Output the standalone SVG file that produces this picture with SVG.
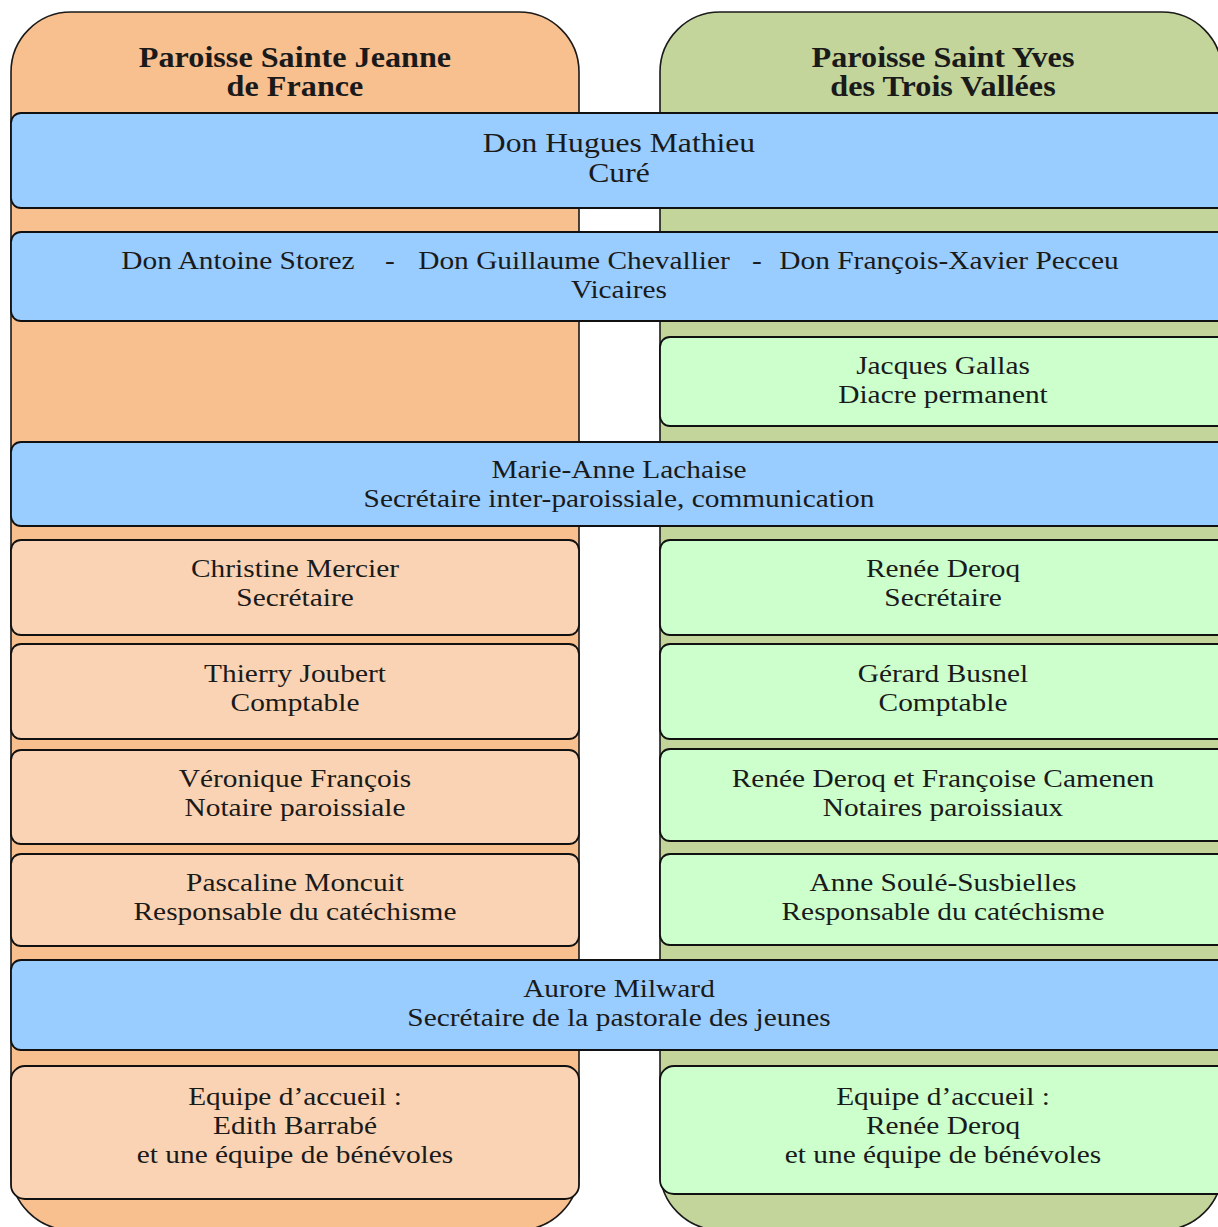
<svg xmlns="http://www.w3.org/2000/svg" width="1218" height="1227" viewBox="0 0 1218 1227">
<style>
.col{stroke:#1a1a1a;stroke-width:1.6}
.or{fill:#F8BF8F}
.gr{fill:#C3D59B}
.bar{fill:#99CCFF;stroke:#111;stroke-width:1.8}
.lb{fill:#F9D3B3;stroke:#111;stroke-width:1.8}
.rb{fill:#CCFFCC;stroke:#111;stroke-width:1.8}
text{font-family:"Liberation Serif","Times New Roman",serif;font-size:26px;fill:#1a1a1a;text-anchor:middle}
.big{font-size:28px}
.ttl{font-weight:bold;font-size:28.5px}
</style>
<g id="col-left"><rect class="col or" x="11" y="12" width="568" height="1218" rx="60" ry="60"/>
<text class="ttl" transform="translate(295 67) scale(1.13 1)">Paroisse Sainte Jeanne</text>
<text class="ttl" transform="translate(295 96) scale(1.13 1)">de France</text></g>
<g id="col-right"><rect class="col gr" x="660" y="12" width="562" height="1218" rx="60" ry="60"/>
<text class="ttl" transform="translate(943 67) scale(1.13 1)">Paroisse Saint Yves</text>
<text class="ttl" transform="translate(943 96) scale(1.13 1)">des Trois Vallées</text></g>
<g id="connectors"></g>
<g id="cure"><rect class="bar" x="11" y="113" width="1225" height="95" rx="10"/>
<text class="big" transform="translate(619 152) scale(1.13 1)">Don Hugues Mathieu</text>
<text class="big" transform="translate(619 182) scale(1.13 1)">Curé</text></g>
<g id="vicaires"><rect class="bar" x="11" y="232" width="1225" height="89" rx="10"/>
<text transform="translate(238 269) scale(1.13 1)">Don Antoine Storez</text>
<text transform="translate(390 269) scale(1.13 1)">-</text>
<text transform="translate(574 269) scale(1.13 1)">Don Guillaume Chevallier</text>
<text transform="translate(757 269) scale(1.13 1)">-</text>
<text transform="translate(949 269) scale(1.13 1)">Don François-Xavier Pecceu</text>
<text transform="translate(619 298) scale(1.13 1)">Vicaires</text></g>
<g id="diacre"><rect class="rb" x="660" y="337" width="575" height="89" rx="10"/>
<text transform="translate(943 374) scale(1.13 1)">Jacques Gallas</text>
<text transform="translate(943 403) scale(1.13 1)">Diacre permanent</text></g>
<g id="secretaire-inter"><rect class="bar" x="11" y="442" width="1225" height="84" rx="10"/>
<text transform="translate(619 478) scale(1.13 1)">Marie-Anne Lachaise</text>
<text transform="translate(619 507) scale(1.13 1)">Secrétaire inter-paroissiale, communication</text></g>
<g id="l-secretaire"><rect class="lb" x="11" y="540" width="568" height="95" rx="10"/>
<text transform="translate(295 577) scale(1.13 1)">Christine Mercier</text>
<text transform="translate(295 606) scale(1.13 1)">Secrétaire</text></g>
<g id="r-secretaire"><rect class="rb" x="660" y="540" width="575" height="95" rx="10"/>
<text transform="translate(943 577) scale(1.13 1)">Renée Deroq</text>
<text transform="translate(943 606) scale(1.13 1)">Secrétaire</text></g>
<g id="l-comptable"><rect class="lb" x="11" y="644" width="568" height="95" rx="10"/>
<text transform="translate(295 682) scale(1.13 1)">Thierry Joubert</text>
<text transform="translate(295 711) scale(1.13 1)">Comptable</text></g>
<g id="r-comptable"><rect class="rb" x="660" y="644" width="575" height="95" rx="10"/>
<text transform="translate(943 682) scale(1.13 1)">Gérard Busnel</text>
<text transform="translate(943 711) scale(1.13 1)">Comptable</text></g>
<g id="l-notaire"><rect class="lb" x="11" y="750" width="568" height="94" rx="10"/>
<text transform="translate(295 787) scale(1.13 1)">Véronique François</text>
<text transform="translate(295 816) scale(1.13 1)">Notaire paroissiale</text></g>
<g id="r-notaire"><rect class="rb" x="660" y="749" width="575" height="92" rx="10"/>
<text transform="translate(943 787) scale(1.13 1)">Renée Deroq et Françoise Camenen</text>
<text transform="translate(943 816) scale(1.13 1)">Notaires paroissiaux</text></g>
<g id="l-catechisme"><rect class="lb" x="11" y="854" width="568" height="92" rx="10"/>
<text transform="translate(295 891) scale(1.13 1)">Pascaline Moncuit</text>
<text transform="translate(295 920) scale(1.13 1)">Responsable du catéchisme</text></g>
<g id="r-catechisme"><rect class="rb" x="660" y="854" width="575" height="91" rx="10"/>
<text transform="translate(943 891) scale(1.13 1)">Anne Soulé-Susbielles</text>
<text transform="translate(943 920) scale(1.13 1)">Responsable du catéchisme</text></g>
<g id="jeunes"><rect class="bar" x="11" y="960" width="1225" height="90" rx="10"/>
<text transform="translate(619 997) scale(1.13 1)">Aurore Milward</text>
<text transform="translate(619 1026) scale(1.13 1)">Secrétaire de la pastorale des jeunes</text></g>
<g id="l-accueil"><rect class="lb" x="11" y="1066" width="568" height="133" rx="14"/>
<text transform="translate(295 1105) scale(1.13 1)">Equipe d’accueil :</text>
<text transform="translate(295 1134) scale(1.13 1)">Edith Barrabé</text>
<text transform="translate(295 1163) scale(1.13 1)">et une équipe de bénévoles</text></g>
<g id="r-accueil"><rect class="rb" x="660" y="1066" width="575" height="128" rx="14"/>
<text transform="translate(943 1105) scale(1.13 1)">Equipe d’accueil :</text>
<text transform="translate(943 1134) scale(1.13 1)">Renée Deroq</text>
<text transform="translate(943 1163) scale(1.13 1)">et une équipe de bénévoles</text></g>
</svg>
